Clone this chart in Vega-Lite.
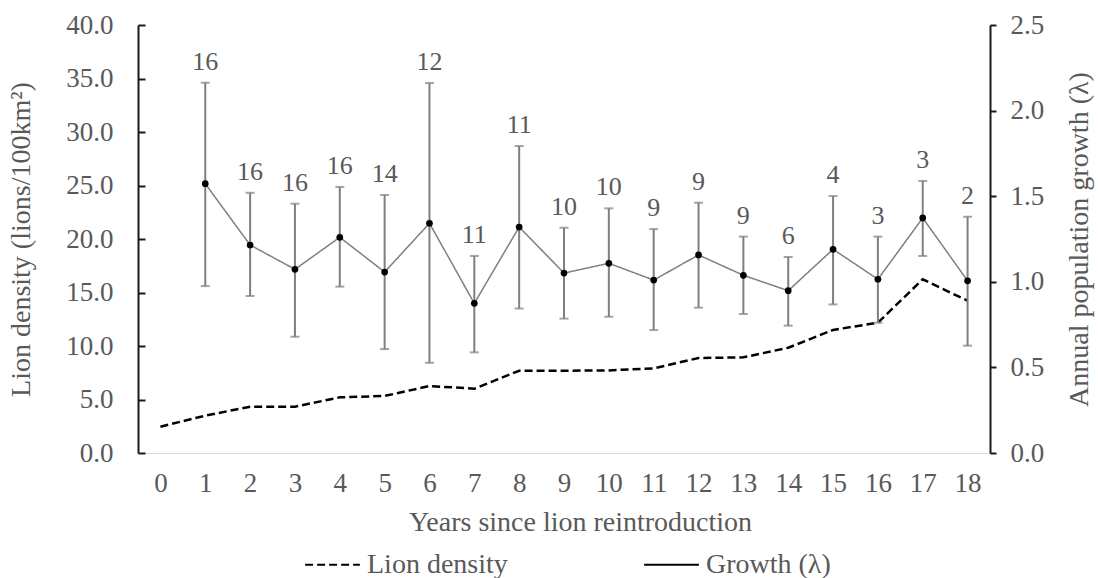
{
  "$schema": "https://vega.github.io/schema/vega-lite/v6.json",
  "width": 852,
  "height": 428,
  "autosize": {"type": "none"},
  "padding": {"left": 138, "top": 25, "right": 108, "bottom": 125},
  "background": "white",
  "config": {
    "view": {"stroke": null},
    "font": "Liberation Serif",
    "axis": {
      "labelFont": "Liberation Serif",
      "titleFont": "Liberation Serif",
      "labelColor": "#595959",
      "titleColor": "#595959",
      "labelFontSize": 27,
      "titleFontSize": 28,
      "titleFontWeight": "normal",
      "grid": false
    },
    "legend": {
      "labelFont": "Liberation Serif",
      "labelFontSize": 28,
      "labelColor": "#595959"
    }
  },
  "data": {
    "values": [
      {"year": 0, "density": 2.46, "growth": null, "lo": null, "hi": null, "n": null},
      {"year": 1, "density": 3.49, "growth": 1.573, "lo": 0.975, "hi": 2.163, "n": 16},
      {"year": 2, "density": 4.33, "growth": 1.215, "lo": 0.917, "hi": 1.52, "n": 16},
      {"year": 3, "density": 4.33, "growth": 1.073, "lo": 0.679, "hi": 1.456, "n": 16},
      {"year": 4, "density": 5.2, "growth": 1.26, "lo": 0.972, "hi": 1.554, "n": 16},
      {"year": 5, "density": 5.33, "growth": 1.057, "lo": 0.607, "hi": 1.507, "n": 14},
      {"year": 6, "density": 6.26, "growth": 1.342, "lo": 0.527, "hi": 2.161, "n": 12},
      {"year": 7, "density": 6.01, "growth": 0.874, "lo": 0.588, "hi": 1.151, "n": 11},
      {"year": 8, "density": 7.69, "growth": 1.32, "lo": 0.844, "hi": 1.793, "n": 11},
      {"year": 9, "density": 7.69, "growth": 1.051, "lo": 0.785, "hi": 1.316, "n": 10},
      {"year": 10, "density": 7.72, "growth": 1.108, "lo": 0.796, "hi": 1.429, "n": 10},
      {"year": 11, "density": 7.91, "growth": 1.01, "lo": 0.718, "hi": 1.308, "n": 9},
      {"year": 12, "density": 8.88, "growth": 1.157, "lo": 0.849, "hi": 1.462, "n": 9},
      {"year": 13, "density": 8.94, "growth": 1.038, "lo": 0.812, "hi": 1.264, "n": 9},
      {"year": 14, "density": 9.84, "growth": 0.948, "lo": 0.744, "hi": 1.145, "n": 6},
      {"year": 15, "density": 11.5, "growth": 1.19, "lo": 0.868, "hi": 1.501, "n": 4},
      {"year": 16, "density": 12.18, "growth": 1.015, "lo": 0.761, "hi": 1.264, "n": 3},
      {"year": 17, "density": 16.23, "growth": 1.373, "lo": 1.151, "hi": 1.589, "n": 3},
      {"year": 18, "density": 14.23, "growth": 1.006, "lo": 0.627, "hi": 1.38, "n": 2}
    ]
  },
  "encoding": {
    "x": {
      "field": "year",
      "type": "ordinal",
      "scale": {"type": "point", "padding": 0.5},
      "axis": {
        "title": "Years since lion reintroduction",
        "titleX": 442,
        "titleAlign": "center",
        "labelAngle": 0,
        "ticks": false,
        "domainColor": "#d9d9d9",
        "domainWidth": 1,
        "labelPadding": 17,
        "titlePadding": 12
      }
    }
  },
  "layer": [
    {
      "mark": {"type": "line", "color": "#000000", "strokeWidth": 2.5},
      "encoding": {
        "y": {
          "field": "density",
          "type": "quantitative",
          "scale": {"domain": [0, 40], "nice": false},
          "axis": {
            "orient": "left",
            "title": "Lion density (lions/100km²)",
            "values": [0, 5, 10, 15, 20, 25, 30, 35, 40],
            "format": ".1f",
            "domainColor": "#1a1a1a",
            "domainWidth": 2,
            "tickColor": "#1a1a1a",
            "tickWidth": 2,
            "tickSize": -7,
            "labelPadding": 32,
            "titlePadding": 30
          }
        },
        "strokeDash": {
          "datum": "Lion density",
          "type": "nominal",
          "scale": {"domain": ["Lion density", "Growth (λ)"], "range": [[8, 4], [1, 0]]},
          "legend": {
            "title": null,
            "orient": "none",
            "direction": "horizontal",
            "legendX": 166,
            "legendY": 511,
            "symbolType": "stroke",
            "symbolSize": 3000,
            "symbolStrokeWidth": 2,
            "labelOffset": 6,
            "columnPadding": 132,
            "encode": {
              "symbols": {
                "shape": {
                  "condition": {"test": "datum.value === 'Growth (λ)'", "value": "M-1,0H1M-0.1,0A0.1,0.1,0,1,0,0.1,0A0.1,0.1,0,1,0,-0.1,0"},
                  "value": "stroke"
                },
                "stroke": {
                  "condition": {"test": "datum.value === 'Growth (λ)'", "value": "#595959"},
                  "value": "#000000"
                },
                "strokeDash": {
                  "condition": {"test": "datum.value === 'Growth (λ)'", "value": [1, 0]},
                  "value": [5, 3.5]
                },
                "fill": {"value": "#000000"},
                "strokeWidth": {
                  "condition": {"test": "datum.value === 'Growth (λ)'", "value": 1.5},
                  "value": 2.5
                }
              }
            }
          }
        }
      }
    },
    {
      "transform": [{"filter": "isValid(datum.growth)"}],
      "encoding": {
        "y": {
          "field": "growth",
          "type": "quantitative",
          "scale": {"domain": [0, 2.5], "nice": false},
          "axis": {
            "orient": "right",
            "title": "Annual population growth (λ)",
            "titleAngle": 270,
            "titleBaseline": "top",
            "values": [0, 0.5, 1, 1.5, 2, 2.5],
            "format": ".1f",
            "domainColor": "#1a1a1a",
            "domainWidth": 2,
            "tickColor": "#1a1a1a",
            "tickWidth": 2,
            "tickSize": 6,
            "labelPadding": 14,
            "titlePadding": 22
          }
        }
      },
      "layer": [
        {
          "mark": {"type": "line", "color": "#7f7f7f", "strokeWidth": 1.5},
          "encoding": {
            "strokeDash": {
              "datum": "Growth (λ)",
              "type": "nominal",
              "legend": {
                "title": null,
                "orient": "none",
                "direction": "horizontal",
                "legendX": 166,
                "legendY": 511,
                "symbolType": "stroke",
                "symbolSize": 3000,
                "symbolStrokeWidth": 2,
                "labelOffset": 6,
                "columnPadding": 132,
                "encode": {
                  "symbols": {
                    "shape": {
                      "condition": {"test": "datum.value === 'Growth (λ)'", "value": "M-1,0H1M-0.1,0A0.1,0.1,0,1,0,0.1,0A0.1,0.1,0,1,0,-0.1,0"},
                      "value": "stroke"
                    },
                    "stroke": {
                      "condition": {"test": "datum.value === 'Growth (λ)'", "value": "#595959"},
                      "value": "#000000"
                    },
                    "strokeDash": {
                      "condition": {"test": "datum.value === 'Growth (λ)'", "value": [1, 0]},
                      "value": [5, 3.5]
                    },
                    "fill": {"value": "#000000"},
                    "strokeWidth": {
                      "condition": {"test": "datum.value === 'Growth (λ)'", "value": 1.5},
                      "value": 2.5
                    }
                  }
                }
              }
            }
          }
        },
        {
          "mark": {"type": "rule", "color": "#7f7f7f", "strokeWidth": 2},
          "encoding": {
            "y": {"field": "lo", "type": "quantitative"},
            "y2": {"field": "hi"}
          }
        },
        {
          "mark": {"type": "tick", "color": "#7f7f7f", "size": 9, "thickness": 2},
          "encoding": {"y": {"field": "lo", "type": "quantitative"}}
        },
        {
          "mark": {"type": "tick", "color": "#7f7f7f", "size": 9, "thickness": 2},
          "encoding": {"y": {"field": "hi", "type": "quantitative"}}
        },
        {
          "mark": {"type": "point", "filled": true, "color": "#000000", "size": 45, "opacity": 1},
          "encoding": {}
        },
        {
          "mark": {"type": "text", "font": "Liberation Serif", "fontSize": 26, "color": "#595959", "baseline": "alphabetic", "dy": -13},
          "encoding": {
            "y": {"field": "hi", "type": "quantitative"},
            "text": {"field": "n", "type": "quantitative"}
          }
        }
      ]
    }
  ],
  "resolve": {"scale": {"y": "independent"}}
}
